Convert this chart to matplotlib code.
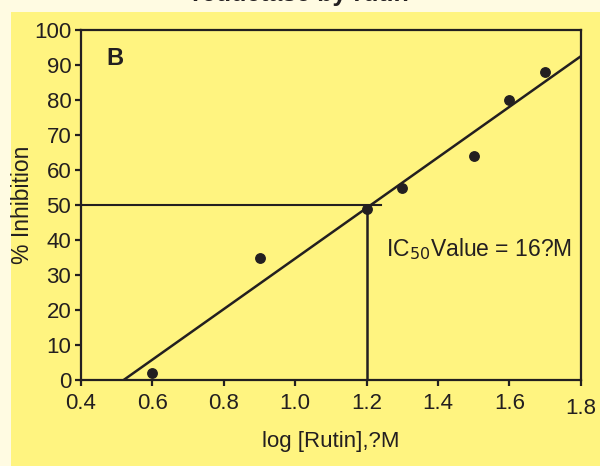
import numpy as np
import matplotlib

matplotlib.use("Agg")
import matplotlib.pyplot as plt
from matplotlib.patches import Rectangle

plt.rcParams["font.family"] = ["Liberation Sans", "DejaVu Sans"]

# log concentration of rutin vs % inhibition
log_conc = [0.6, 0.9, 1.2, 1.3, 1.5, 1.6, 1.7]
inhibition = [2, 35, 49, 55, 64, 80, 88]

x_ticks = [0.4, 0.6, 0.8, 1.0, 1.2, 1.4, 1.6, 1.8]
y_ticks = [0, 10, 20, 30, 40, 50, 60, 70, 80, 90, 100]

ic50_log = 1.2
ic50_pct = 50

INK = "#231f20"
PANEL = "#fff480"
PAGE = "#fffbe2"

fig = plt.figure(figsize=(6.0, 4.66), dpi=100, facecolor=PAGE)
fig.patches.append(Rectangle((11 / 600, 0), 1, 1 - 12 / 466, transform=fig.transFigure,
                             facecolor=PANEL, edgecolor="none", zorder=-10))
fig.text(0.50, 1 - 0.5 / 466, "reductase by rutin", ha="center", va="baseline",
         fontsize=18, fontweight="bold", color=INK)

ax = fig.add_axes([0.135, 0.1845, 0.833, 0.7511])
ax.set_facecolor("none")

# linear fit through the points
slope, icpt = np.polyfit(log_conc, inhibition, 1)
fx = np.array([x_ticks[0], x_ticks[-1]])
ax.plot(fx, slope * fx + icpt, color=INK, lw=1.8, zorder=3)

ax.plot(log_conc, inhibition, "o", color=INK, ms=6.8, zorder=4)

# IC50 guide lines
ax.plot([x_ticks[0], 1.24], [ic50_pct, ic50_pct], color=INK, lw=1.5, zorder=3)
ax.plot([ic50_log, ic50_log], [0, ic50_pct], color=INK, lw=1.8, zorder=3)

ax.set_xlim(x_ticks[0], x_ticks[-1])
ax.set_ylim(y_ticks[0], y_ticks[-1])
ax.set_xticks(x_ticks)
ax.set_xticklabels([f"{t:.1f}" for t in x_ticks])
ax.set_yticks(y_ticks)

for s in ax.spines.values():
    s.set_linewidth(1.6)
    s.set_color(INK)
ax.tick_params(direction="out", length=4, width=1.6, color=INK, labelcolor=INK,
               labelsize=16)
ax.tick_params(axis="x", pad=5)
ax.tick_params(axis="y", pad=3)
ax.get_xticklabels()[-1].set_y(-0.017)

ax.set_xlabel("log [Rutin],?M", fontsize=16, color=INK, labelpad=8)
ax.set_ylabel("% Inhibition", fontsize=16.5, color=INK, labelpad=0)

ax.text(0.472, 92, "B", fontsize=17, fontweight="bold", color=INK, va="center")
ax.text(1.255, 37.5, "IC$_{50}$Value = 16?M", fontsize=16.5, color=INK, va="center")

fig.savefig("out.png", dpi=100, facecolor=PAGE)
